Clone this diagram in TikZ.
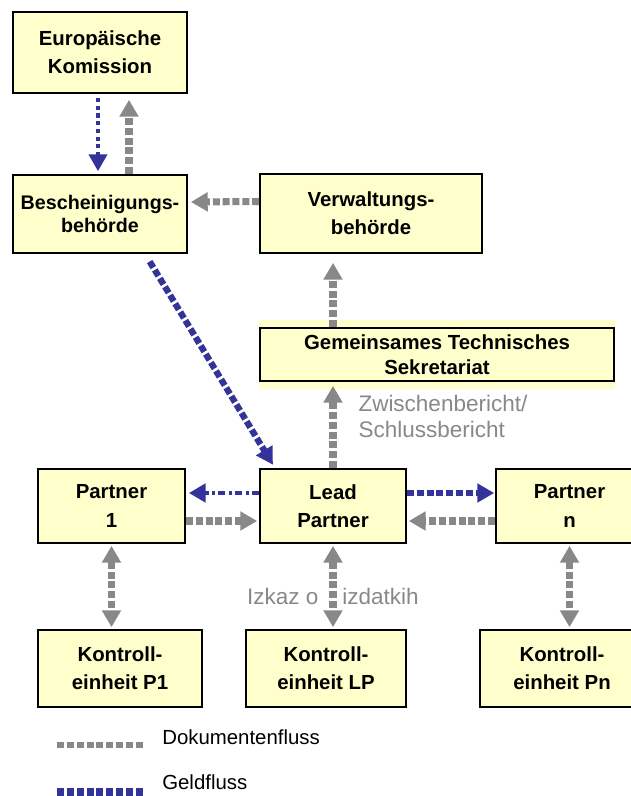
\documentclass[tikz,border=0pt]{standalone}
\usepackage{fontspec}
\setmainfont{Liberation Sans}
\usepackage{xcolor}
\usepackage{tikz}
\usetikzlibrary{arrows.meta,calc,backgrounds}

\definecolor{boxyellow}{RGB}{255,255,204}
\definecolor{docgray}{RGB}{136,136,136}
\definecolor{moneyblue}{RGB}{51,51,153}

\begin{document}
\begin{tikzpicture}[
    font=\fontsize{14}{20}\selectfont,
    unit/.style={rectangle, draw=black, line width=1.2pt, fill=boxyellow, align=center, inner sep=2pt, font=\fontsize{14.5}{20}\selectfont\bfseries},
    doc/.style={draw=docgray, line width=5pt, dash pattern=on 5pt off 2pt},
    docarrow/.style={doc, -{Triangle[length=12pt,width=13pt]}},
    docboth/.style={doc, {Triangle[length=12pt,width=13pt]}-{Triangle[length=12pt,width=13pt]}},
    money/.style={draw=moneyblue, line width=4.5pt, dash pattern=on 5pt off 2pt},
    moneyarrow/.style={money, -{Triangle[length=12pt,width=13pt]}},
    glabel/.style={text=docgray, inner sep=0pt, font=\fontsize{16}{18}\selectfont},
    legtext/.style={inner sep=0pt, font=\fontsize{14.5}{18}\selectfont},
]
\useasboundingbox (0,0) rectangle (15.775,-19.9);

\node[unit, minimum width=4.35cm, minimum height=2.025cm] (ek)  at (2.5,-1.3125)   {Europäische\\Komission};
\node[unit, minimum width=4.35cm, minimum height=1.95cm, font=\fontsize{14}{17}\selectfont\bfseries] (bb) at (2.5,-5.35) {Bescheinigungs-\\behörde};
\node[unit, minimum width=5.55cm, minimum height=1.975cm] (vb)  at (9.275,-5.3375) {Verwaltungs-\\behörde};
\node[unit, minimum width=8.85cm, minimum height=1.325cm, font=\fontsize{14.5}{18}\selectfont\bfseries] (gts) at (10.925,-8.8625) {Gemeinsames Technisches\\Sekretariat};
\node[unit, minimum width=3.675cm, minimum height=1.85cm] (p1)  at (2.7875,-12.65)  {Partner\\1};
\node[unit, minimum width=3.65cm, minimum height=1.85cm]  (lp)  at (8.325,-12.65)   {Lead\\Partner};
\node[unit, minimum width=3.675cm, minimum height=1.85cm] (pn)  at (14.2375,-12.65) {Partner\\n};
\node[unit, minimum width=4.1cm, minimum height=1.925cm]  (kp1) at (3.0,-16.7125)   {Kontroll-\\einheit P1};
\node[unit, minimum width=4.0cm, minimum height=1.925cm]  (klp) at (8.15,-16.7125)  {Kontroll-\\einheit LP};
\node[unit, minimum width=4.1cm, minimum height=1.925cm]  (kpn) at (14.05,-16.7125) {Kontroll-\\einheit Pn};

% band behind GTS
\begin{scope}[on background layer]
\fill[boxyellow] ($(gts.south west)+(0,-0.175)$) rectangle ($(gts.north east)+(0,0.175)$);
\end{scope}

% Geldfluss
\draw[moneyarrow, line width=2.3pt, dash pattern=on 3pt off 2.5pt, shorten <=0.1cm, shorten >=0.075cm]
  ([xshift=-0.05cm]ek.south) -- ([xshift=-0.05cm]bb.north);
\draw[moneyarrow, shorten <=0.225cm, shorten >=0.1cm] ([xshift=1.125cm]bb.south) -- ([xshift=-1.45cm]lp.north);
\draw[moneyarrow, line width=3.5pt, dash pattern=on 5pt off 2.5pt on 2pt off 2.5pt, shorten >=0.075cm]
  ([yshift=0.325cm]lp.west) -- ([yshift=0.325cm]p1.east);
\draw[moneyarrow, shorten >=0.025cm] ([yshift=0.325cm]lp.east) -- ([yshift=0.325cm]pn.west);

% Dokumentenfluss
\draw[docarrow, shorten >=0.15cm] ([xshift=0.725cm]bb.north) -- ([xshift=0.725cm]ek.south);
\draw[docarrow, shorten >=0.075cm] ([yshift=0.3cm]vb.west) -- ([yshift=0.3cm]bb.east);
\draw[docarrow, shorten >=0.225cm] (gts.north -| lp.north) -- (vb.south -| lp.north);
\draw[docarrow, shorten >=0.1cm] (lp.north) -- (lp.north |- gts.south)
  node[pos=0.6, right=0.55cm, align=left, glabel] {Zwischenbericht/\\Schlussbericht};
\draw[docarrow, shorten >=0.05cm] ([yshift=-0.375cm]p1.east) -- ([yshift=-0.375cm]lp.west);
\draw[docarrow, shorten >=0.05cm] ([yshift=-0.375cm]pn.west) -- ([yshift=-0.375cm]lp.east);
\draw[docboth, shorten <=0.05cm, shorten >=0.05cm] (p1.south) -- (p1.south |- kp1.north);
\draw[docboth, shorten <=0.05cm, shorten >=0.05cm] (lp.south) -- (lp.south |- klp.north)
  node[pos=0.62, glabel] {Izkaz o\hspace{0.6cm}izdatkih};
\draw[docboth, shorten <=0.05cm, shorten >=0.05cm] (pn.south) -- (pn.south |- kpn.north);

% Legende
\coordinate (ldocA) at (1.425,-18.625);
\coordinate (ldocB) at (3.575,-18.625);
\coordinate (lmonA) at (1.425,-19.8);
\coordinate (lmonB) at (3.575,-19.8);
\draw[doc, line width=4.5pt] (ldocA) -- (ldocB);
\draw[money, line width=5pt] (lmonA) -- (lmonB);
\node[legtext, anchor=west] (ldoc) at (4.05,-18.425) {Dokumentenfluss};
\node[legtext, anchor=west] (lmon) at (4.05,-19.55)  {Geldfluss};
\end{tikzpicture}
\end{document}
